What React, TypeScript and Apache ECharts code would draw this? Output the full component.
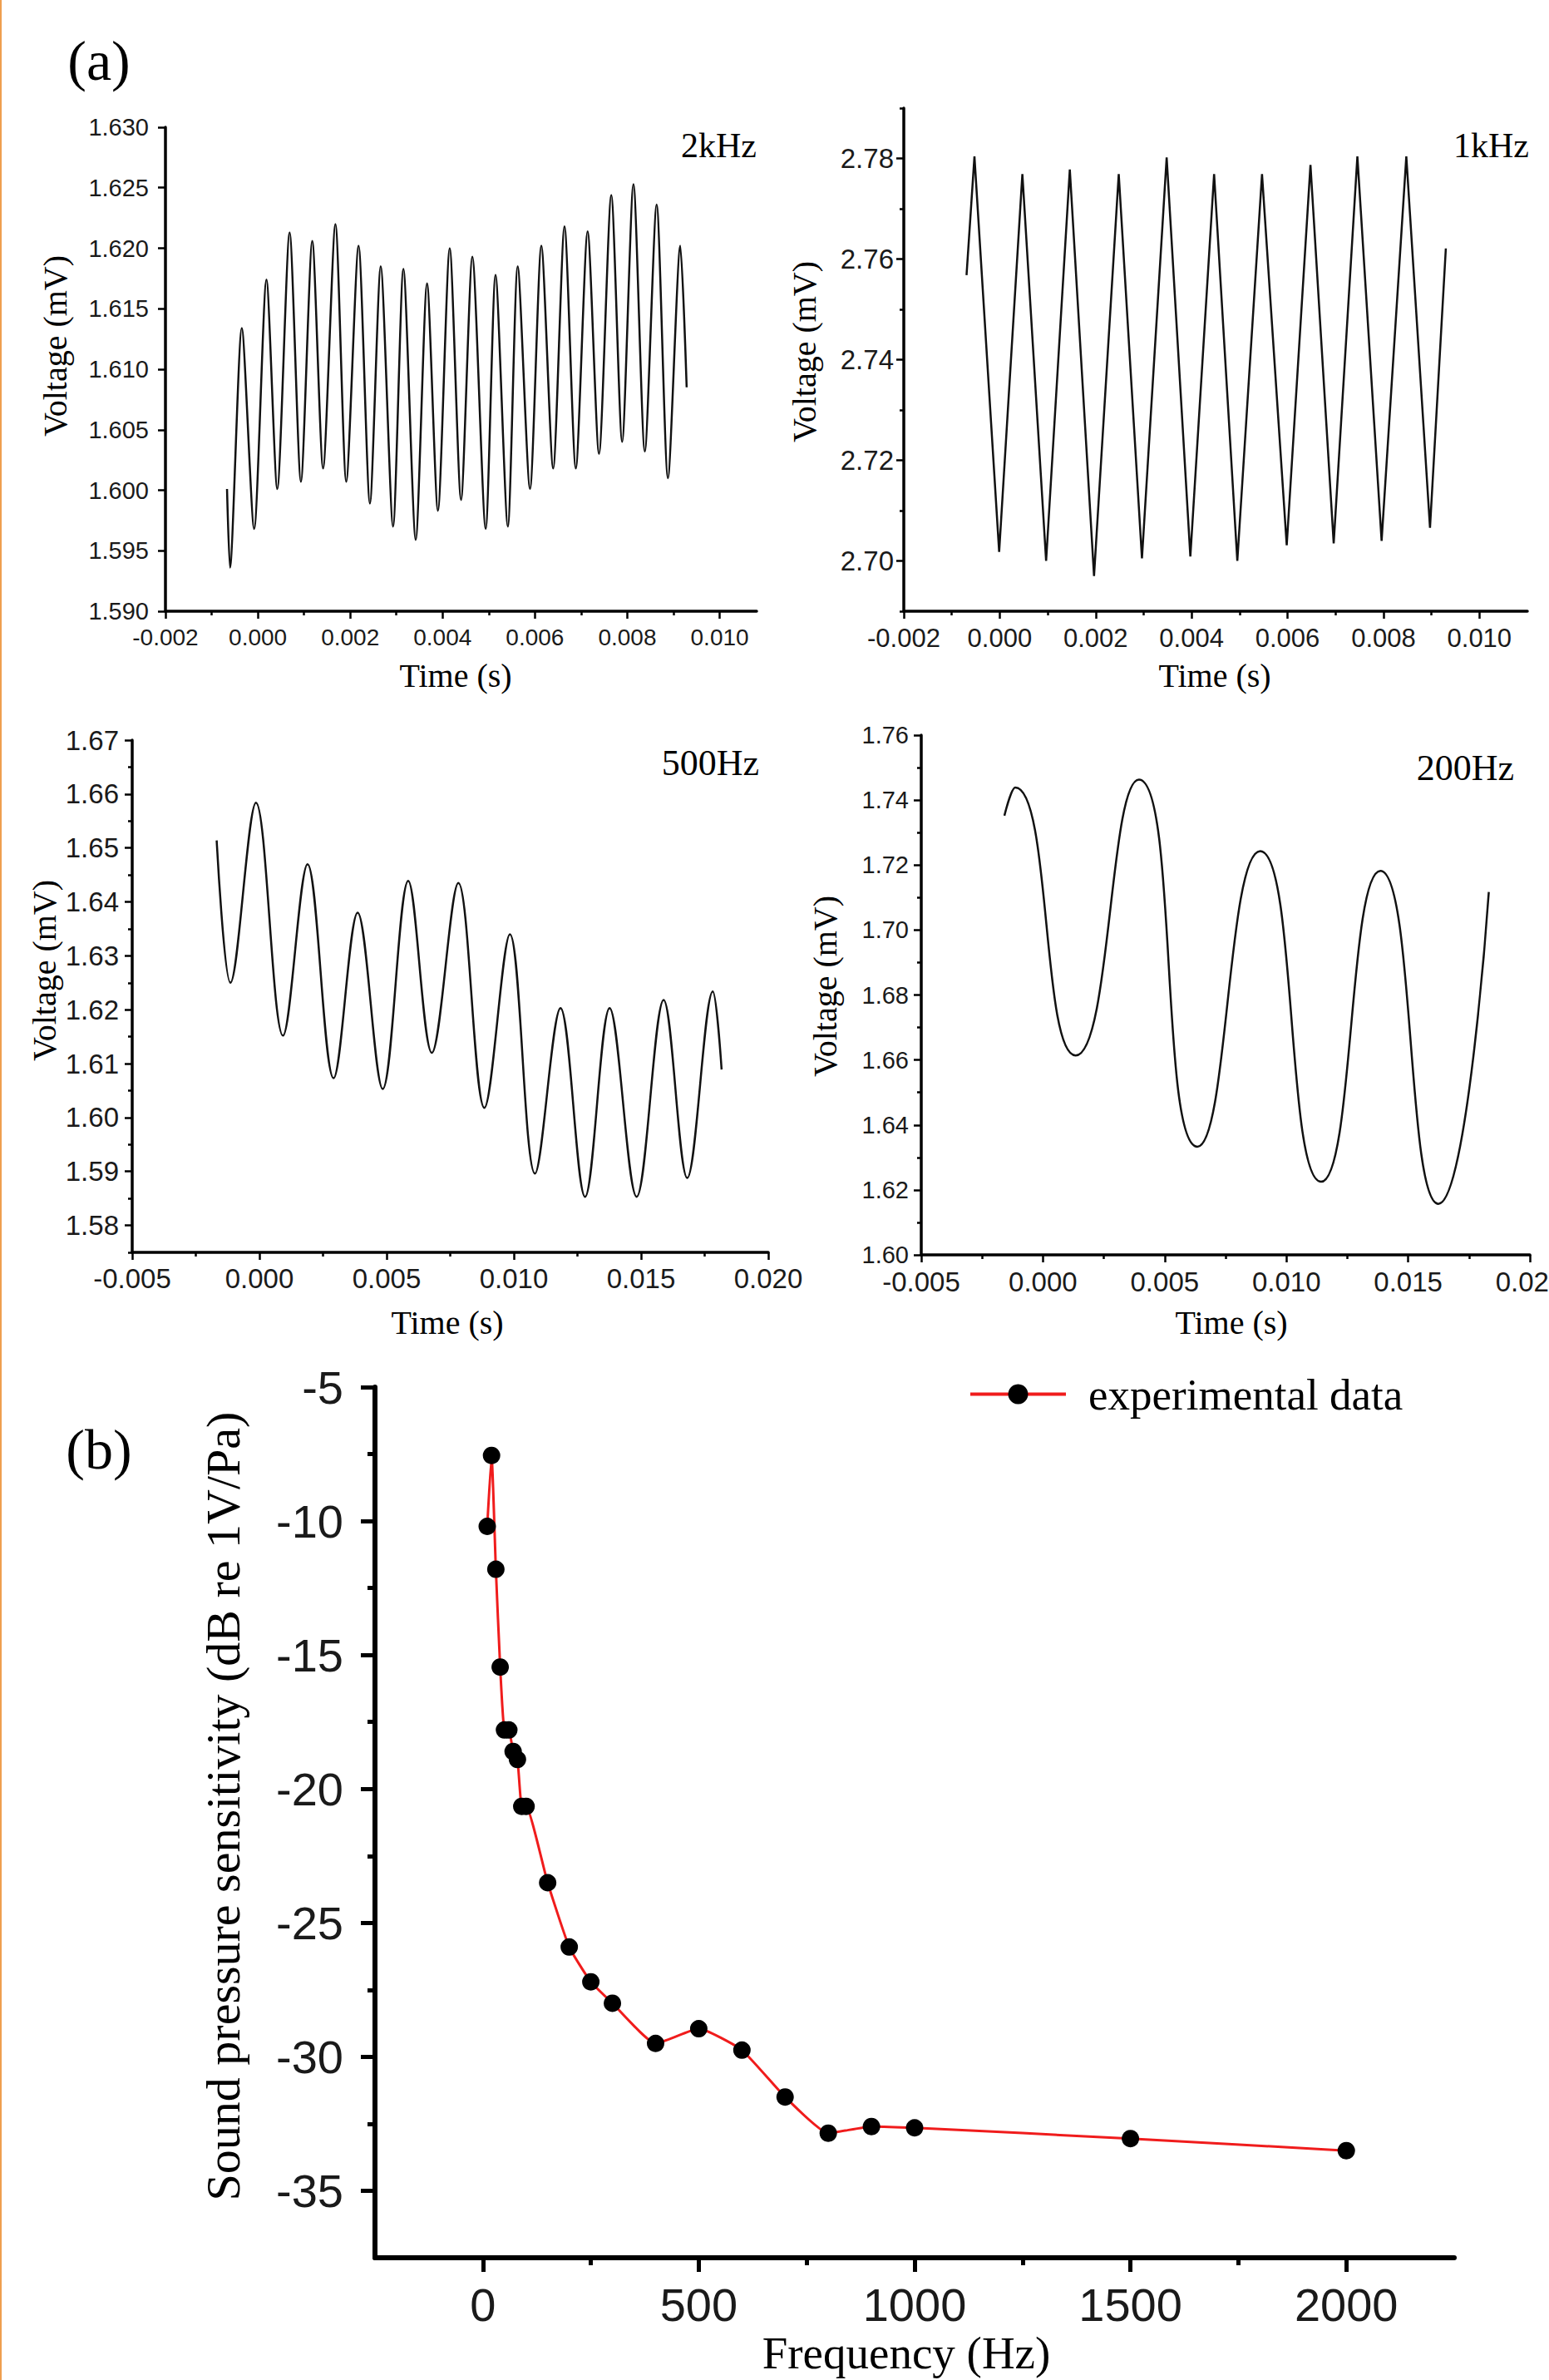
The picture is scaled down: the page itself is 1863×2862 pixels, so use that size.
import React, { useEffect, useRef } from 'react';
import * as echarts from 'echarts';

const W = 1863;
const H = 2862;
const SANS = '"Liberation Sans", Arial, sans-serif';
const SERIF = '"Liberation Serif", "Times New Roman", serif';

// ---- (a) 2 kHz trace: time (s), voltage (mV) at read turning points
const t2k = [-0.000667, -0.000603, -0.000347, -0.00008, 0.000187, 0.000421, 0.000688, 0.000933, 0.001179, 0.001413, 0.00168, 0.001915, 0.002181, 0.002427, 0.002661, 0.002928, 0.003152, 0.003419, 0.003664, 0.003899, 0.004155, 0.0044, 0.004645, 0.004933, 0.005147, 0.005413, 0.005627, 0.005893, 0.006139, 0.006395, 0.00664, 0.006885, 0.007141, 0.007387, 0.007653, 0.007888, 0.008133, 0.008379, 0.008635, 0.00888, 0.009147, 0.009285];
const v2k = [1.6001, 1.5936, 1.6134, 1.5968, 1.6174, 1.6001, 1.6213, 1.6007, 1.6206, 1.6018, 1.622, 1.6007, 1.6202, 1.5989, 1.6185, 1.597, 1.6183, 1.5959, 1.6171, 1.5983, 1.62, 1.5992, 1.6193, 1.5968, 1.6178, 1.597, 1.6185, 1.6001, 1.6202, 1.6018, 1.6218, 1.6018, 1.6214, 1.603, 1.6244, 1.604, 1.6253, 1.6032, 1.6236, 1.601, 1.6202, 1.6085];

// ---- 1 kHz trace
const t1k = [-0.000692, -0.000527, -0.000012, 0.000472, 0.000967, 0.001461, 0.001966, 0.002481, 0.002965, 0.00348, 0.003974, 0.004469, 0.004953, 0.005468, 0.005983, 0.006478, 0.006962, 0.007456, 0.007961, 0.008476, 0.00897, 0.0093];
const v1k = [2.7568, 2.7804, 2.7018, 2.7769, 2.7, 2.7778, 2.697, 2.7769, 2.7005, 2.7802, 2.7009, 2.7769, 2.7, 2.7769, 2.7031, 2.7787, 2.7035, 2.7804, 2.704, 2.7804, 2.7066, 2.7621];

// ---- 500 Hz trace
const t500 = [-0.00168, -0.001139, -0.000135, 0.000927, 0.001892, 0.002915, 0.003861, 0.004846, 0.005849, 0.006776, 0.007819, 0.008842, 0.009846, 0.01083, 0.011834, 0.012799, 0.013764, 0.014826, 0.015888, 0.016815, 0.017819, 0.018166];
const v500 = [1.6514, 1.625, 1.6584, 1.6152, 1.647, 1.6073, 1.638, 1.6053, 1.6439, 1.612, 1.6435, 1.6018, 1.634, 1.5896, 1.6203, 1.5853, 1.6203, 1.5853, 1.6218, 1.5888, 1.6234, 1.6089];

// ---- 200 Hz trace
const t200 = [-0.001585, -0.001138, 0.001341, 0.003943, 0.006341, 0.008923, 0.011423, 0.013862, 0.01624, 0.018313];
const v200 = [1.7352, 1.7439, 1.6614, 1.7463, 1.6333, 1.7243, 1.6225, 1.7182, 1.6157, 1.7117];

// ---- (b) sensitivity vs frequency
const freqHz = [10, 20, 30, 40, 50, 60, 70, 80, 90, 100, 150, 200, 250, 300, 400, 500, 600, 700, 800, 900, 1000, 1500, 2000];
const sensDb = [-10.2, -7.55, -11.8, -15.45, -17.8, -17.8, -18.6, -18.9, -20.65, -20.65, -23.5, -25.9, -27.2, -28.0, -29.5, -28.95, -29.75, -31.5, -32.85, -32.6, -32.65, -33.05, -33.5];

// ---- tick values
const x2kMajor = [-0.002, 0, 0.002, 0.004, 0.006, 0.008, 0.01];
const x2kMinor = [-0.001, 0.001, 0.003, 0.005, 0.007, 0.009];
const y2kMajor = [1.59, 1.595, 1.6, 1.605, 1.61, 1.615, 1.62, 1.625, 1.63];
const y2kMinor: number[] = [];
const x1kMajor = [-0.002, 0, 0.002, 0.004, 0.006, 0.008, 0.01];
const x1kMinor = [-0.001, 0.001, 0.003, 0.005, 0.007, 0.009];
const y1kMajor = [2.7, 2.72, 2.74, 2.76, 2.78];
const y1kMinor = [2.69, 2.71, 2.73, 2.75, 2.77, 2.79];
const xLowMajor = [-0.005, 0, 0.005, 0.01, 0.015, 0.02];
const xLowMinor = [-0.0025, 0.0025, 0.0075, 0.0125, 0.0175];
const y500Major = [1.58, 1.59, 1.6, 1.61, 1.62, 1.63, 1.64, 1.65, 1.66, 1.67];
const y500Minor = [1.575, 1.585, 1.595, 1.605, 1.615, 1.625, 1.635, 1.645, 1.655, 1.665];
const y200Major = [1.6, 1.62, 1.64, 1.66, 1.68, 1.7, 1.72, 1.74, 1.76];
const y200Minor = [1.61, 1.63, 1.65, 1.67, 1.69, 1.71, 1.73, 1.75];
const xFreqMajor = [0, 500, 1000, 1500, 2000];
const xFreqMinor = [250, 750, 1250, 1750];
const ySensMajor = [-35, -30, -25, -20, -15, -10, -5];
const ySensMinor = [-32.5, -27.5, -22.5, -17.5, -12.5, -7.5];

type AxisSpec = {
  min: number; max: number; major: number[]; minor: number[]; digits: number;
  margin: number; fontSize: number; lineW: number; tickW: number; majLen: number; minLen: number;
};

function makeAxes(dim: 'x' | 'y', gridIndex: number, s: AxisSpec) {
  const position = dim === 'x' ? 'bottom' : 'left';
  const major = {
    type: 'value', gridIndex, position, min: s.min, max: s.max,
    axisLine: { show: true, onZero: false, lineStyle: { color: '#000', width: s.lineW } },
    axisTick: { show: true, inside: false, customValues: s.major, length: s.majLen, lineStyle: { color: '#000', width: s.tickW } },
    axisLabel: {
      show: true, customValues: s.major, margin: s.margin, color: '#1a1a1a',
      fontFamily: SANS, fontSize: s.fontSize,
      formatter: (v: number) => v.toFixed(s.digits),
    },
    splitLine: { show: false },
    minorTick: { show: false },
  };
  const minor = {
    type: 'value', gridIndex, position, min: s.min, max: s.max,
    axisLine: { show: false, onZero: false },
    axisTick: { show: s.minor.length > 0, inside: false, customValues: s.minor, length: s.minLen, lineStyle: { color: '#000', width: s.tickW } },
    axisLabel: { show: false },
    splitLine: { show: false },
  };
  return [major, minor];
}

const aStyle = { lineW: 3.5, tickW: 2.5, majLen: 9, minLen: 5 };
const bStyle = { fontSize: 56, lineW: 6, tickW: 5, majLen: 17, minLen: 9 };

function traceSeries(idx: number, ts: number[], vs: number[], smooth: number | boolean) {
  return {
    type: 'line', xAxisIndex: idx * 2, yAxisIndex: idx * 2,
    data: ts.map((t, i) => [t, vs[i]]),
    showSymbol: false, symbol: 'none', smooth,
    lineStyle: { color: '#111', width: 2.5 },
    silent: true,
  };
}

function txt(text: string, x: number, y: number, size: number, align = 'center', rotate = 0, family = SERIF) {
  return {
    type: 'text', x, y, rotation: rotate, silent: true,
    style: { text, fontSize: size, fontFamily: family, fill: '#000', textAlign: align, textVerticalAlign: 'middle' },
  };
}

export default function App() {
  const ref = useRef<HTMLDivElement>(null);
  useEffect(() => {
    if (!ref.current) return;
    const chart = echarts.init(ref.current, undefined, { renderer: 'svg', width: W, height: H });

    const grids = [
      { left: 199, top: 153, width: 711, height: 582 },
      { left: 1087, top: 130, width: 750, height: 605 },
      { left: 159, top: 890, width: 765, height: 616 },
      { left: 1108, top: 884, width: 732, height: 625 },
      { left: 451, top: 1668, width: 1298, height: 1047 },
    ].map((g) => ({ ...g, containLabel: false, outerBoundsMode: 'none', show: false }));

    const xAxes = [
      ...makeAxes('x', 0, { min: -0.002, max: 0.0108, major: x2kMajor, minor: x2kMinor, digits: 3, margin: 17, fontSize: 28, ...aStyle }),
      ...makeAxes('x', 1, { min: -0.002, max: 0.011, major: x1kMajor, minor: x1kMinor, digits: 3, margin: 17, fontSize: 31, ...aStyle }),
      ...makeAxes('x', 2, { min: -0.005, max: 0.02, major: xLowMajor, minor: xLowMinor, digits: 3, margin: 15, fontSize: 33, ...aStyle }),
      ...makeAxes('x', 3, { min: -0.005, max: 0.02, major: xLowMajor, minor: xLowMinor, digits: 3, margin: 16, fontSize: 33, ...aStyle }),
      ...makeAxes('x', 4, { min: -250, max: 2250, major: xFreqMajor, minor: xFreqMinor, digits: 0, margin: 28, ...bStyle }),
    ];
    const yAxes = [
      ...makeAxes('y', 0, { min: 1.59, max: 1.63, major: y2kMajor, minor: y2kMinor, digits: 3, margin: 20, fontSize: 29, ...aStyle }),
      ...makeAxes('y', 1, { min: 2.69, max: 2.79, major: y1kMajor, minor: y1kMinor, digits: 2, margin: 12, fontSize: 33, ...aStyle }),
      ...makeAxes('y', 2, { min: 1.575, max: 1.67, major: y500Major, minor: y500Minor, digits: 2, margin: 16, fontSize: 33, ...aStyle }),
      ...makeAxes('y', 3, { min: 1.6, max: 1.76, major: y200Major, minor: y200Minor, digits: 2, margin: 15, fontSize: 29, ...aStyle }),
      ...makeAxes('y', 4, { min: -37.5, max: -5, major: ySensMajor, minor: ySensMinor, digits: 0, margin: 38, ...bStyle }),
    ];

    const series: any[] = [
      traceSeries(0, t2k, v2k, 0.25),
      traceSeries(1, t1k, v1k, false),
      traceSeries(2, t500, v500, 0.35),
      traceSeries(3, t200, v200, 0.55),
      {
        name: 'experimental data', type: 'line', xAxisIndex: 8, yAxisIndex: 8,
        data: freqHz.map((f, i) => [f, sensDb[i]]),
        symbol: 'circle', symbolSize: 21, showSymbol: true, smooth: 0.15,
        itemStyle: { color: '#000' },
        lineStyle: { color: '#f01c1c', width: 3 },
        z: 3,
      },
    ];

    const graphic = [
      { type: 'rect', left: 0, top: 0, shape: { x: 0, y: 0, width: 2, height: H }, style: { fill: '#ef9f4f' }, silent: true },
      txt('(a)', 119, 73, 68),
      txt('(b)', 119, 1743, 68),
      txt('2kHz', 910, 175, 42, 'right'),
      txt('1kHz', 1839, 175, 42, 'right'),
      txt('500Hz', 913, 917, 44, 'right'),
      txt('200Hz', 1821, 923, 44, 'right'),
      txt('Voltage (mV)', 66, 416, 40, 'center', Math.PI / 2),
      txt('Voltage (mV)', 967, 423, 40, 'center', Math.PI / 2),
      txt('Voltage (mV)', 53, 1167, 40, 'center', Math.PI / 2),
      txt('Voltage (mV)', 992, 1186, 40, 'center', Math.PI / 2),
      txt('Time (s)', 548, 812, 40),
      txt('Time (s)', 1461, 812, 40),
      txt('Time (s)', 538, 1590, 40),
      txt('Time (s)', 1481, 1590, 40),
      txt('Frequency (Hz)', 1090, 2829, 55),
      txt('Sound pressure sensitivity (dB re 1V/Pa)', 268, 2172, 58, 'center', Math.PI / 2),
    ];

    chart.setOption({
      animation: false,
      backgroundColor: '#fff',
      grid: grids,
      xAxis: xAxes,
      yAxis: yAxes,
      series,
      legend: {
        data: ['experimental data'],
        left: 1165, top: 1650, padding: 0,
        itemWidth: 115, itemHeight: 30,
        lineStyle: { width: 4 },
        textStyle: { fontFamily: SERIF, fontSize: 53, color: '#000', padding: [0, 0, 0, 22] },
      },
      graphic,
    } as any);
    return () => chart.dispose();
  }, []);
  return <div ref={ref} style={{ position: 'absolute', left: 0, top: 0, width: W, height: H }} />;
}
